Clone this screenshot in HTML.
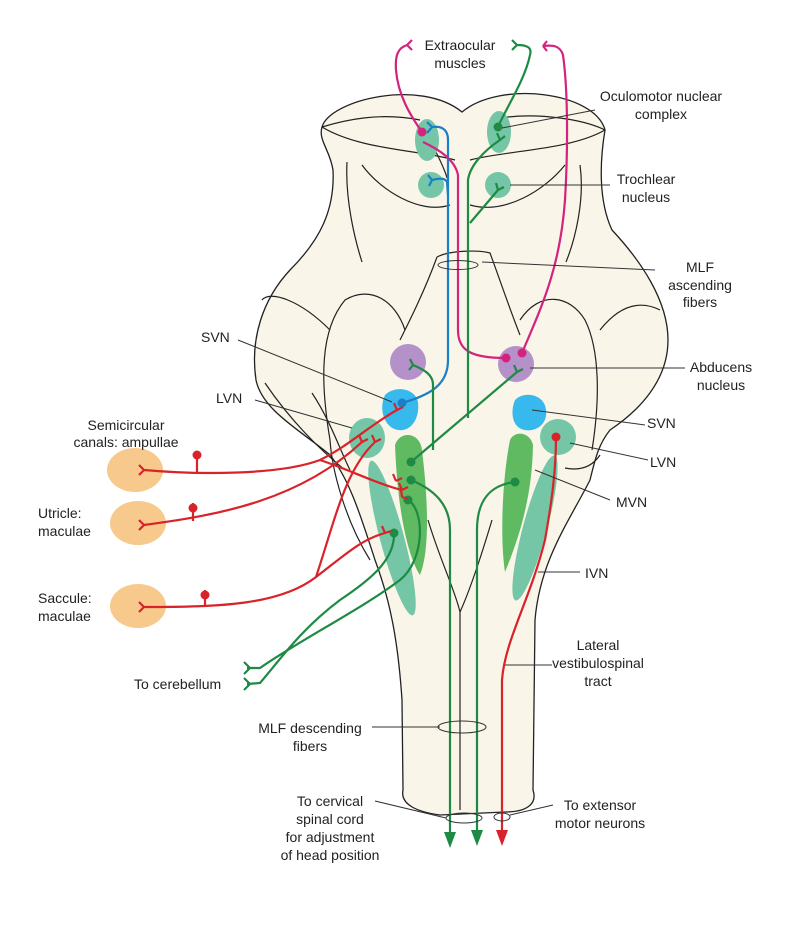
<!DOCTYPE html>
<html><head><meta charset="utf-8"><style>
html,body{margin:0;padding:0;background:#fff;}
svg{display:block;}
text{font-family:"Liberation Sans",sans-serif;font-size:14px;fill:#222;}
</style></head><body>
<svg width="800" height="931" viewBox="0 0 800 931" xmlns="http://www.w3.org/2000/svg">
<path d="M322,127 C330,100 420,78 462,112 C500,80 595,92 605,130 C600,160 598,200 612,230 C640,260 668,300 668,340 C668,380 640,410 610,430 C598,445 595,460 590,480 C570,520 540,560 535,620 L533,790 C538,805 525,812 505,812 L440,815 C418,812 400,805 403,790 L402,700 C398,640 390,600 375,560 C362,520 350,480 330,455 C300,430 262,410 256,380 C250,340 262,300 290,270 C320,240 335,210 333,170 C330,150 318,140 322,127 Z" fill="#f9f5e8" stroke="#222" stroke-width="1.3"/>
<g fill="none" stroke="#222" stroke-width="1.2">
<path d="M322,127 C360,150 420,150 455,160 M605,130 C570,150 510,150 470,160"/>
<path d="M322,127 C345,120 380,112 420,120 M605,130 C585,120 540,112 500,118"/>
<path d="M347,162 C345,200 355,240 362,262"/>
<path d="M580,165 C585,200 575,240 566,262"/>
<path d="M362,165 C380,190 420,215 450,205 M565,165 C545,190 505,215 470,205"/>
<path d="M437,257 C450,250 480,250 490,253 C500,280 510,310 520,335 M437,257 C425,290 410,320 400,340"/>
<path d="M435,150 C440,160 445,170 447,178"/>
<path d="M405,330 C395,300 370,285 345,300 C320,330 320,380 330,440 C332,470 345,520 370,560"/>
<path d="M520,320 C540,290 570,295 585,320 C600,350 600,400 592,450"/>
<path d="M262,300 C270,290 300,300 330,330 M660,310 C640,300 620,305 600,330"/>
<path d="M265,383 C290,420 320,450 345,470 M600,455 C590,470 575,470 565,468"/>
<path d="M428,520 C440,560 455,590 460,612 C470,590 480,560 492,520 M460,612 L460,810"/>
<path d="M312,393 C330,420 340,450 350,470"/>
</g>
<g fill="#74c6a6">
<ellipse cx="427" cy="140" rx="12" ry="21"/><ellipse cx="499" cy="132" rx="12" ry="21"/>
<circle cx="431" cy="185" r="13"/><circle cx="498" cy="185" r="13"/>
<ellipse cx="367" cy="438" rx="18" ry="20"/><ellipse cx="558" cy="437" rx="18" ry="18"/>
<ellipse cx="392" cy="538" rx="12" ry="80" transform="rotate(-15 392 538)"/>
<ellipse cx="535" cy="528" rx="12" ry="75" transform="rotate(15 535 528)"/>
</g>
<g fill="#b491c8"><circle cx="408" cy="362" r="18"/><circle cx="516" cy="364" r="18"/></g>
<g fill="#38b9ee"><path d="M385,395 C395,385 415,388 418,402 C420,420 410,432 398,430 C385,428 378,410 385,395Z"/><path d="M515,400 C525,390 545,395 546,410 C548,425 535,432 525,430 C512,428 510,412 515,400Z"/></g>
<g fill="#5fba62"><path d="M395,445 C400,430 420,432 422,450 C428,500 430,550 420,575 C410,560 398,520 395,445Z"/><path d="M510,440 C515,430 530,432 533,445 C532,500 518,540 505,572 C500,540 502,480 510,440Z"/></g>
<g fill="#f8c98c"><ellipse cx="135" cy="470" rx="28" ry="22"/><ellipse cx="138" cy="523" rx="28" ry="22"/><ellipse cx="138" cy="606" rx="28" ry="22"/></g>
<g fill="none" stroke="#1a7fc4" stroke-width="2.2">
<path d="M402,403 C430,395 448,385 448,360 L448,140 C448,128 440,126 432,127 M432,127 l-5,-5 M432,127 l-5,6"/>
<path d="M448,195 L447,182 C445,178 440,178 432,180 M432,180 l-4,-5 M432,180 l-3,6"/>
</g>
<circle cx="402" cy="403" r="4.5" fill="#1a7fc4"/>
<g fill="none" stroke="#d4237f" stroke-width="2.2">
<path d="M422,132 C410,115 398,95 396,70 C395,55 398,48 407,45 M407,45 l5,-5 M407,45 l5,5"/>
<path d="M423,142 C440,150 455,160 458,175 L458,330 C458,350 470,358 506,358"/>
<path d="M522,353 C540,310 560,270 565,200 C568,150 568,90 563,55 C560,45 552,45 543,46 M543,46 l4,-5 M543,46 l4,5"/>
</g>
<g fill="#d4237f"><circle cx="422" cy="132" r="4.5"/><circle cx="506" cy="358" r="4.5"/><circle cx="522" cy="353" r="4.5"/></g>
<g fill="none" stroke="#1e8a44" stroke-width="2.2">
<path d="M498,127 C505,110 525,80 530,55 C532,48 528,45 517,45 M517,45 l-5,-5 M517,45 l-5,5"/>
<path d="M500,140 C485,150 470,165 468,180 L468,418 M500,140 l-3,-7 M500,140 l5,-4"/>
<path d="M498,190 L470,223 M498,190 l-2,-7 M498,190 l6,-3"/>
<path d="M517,372 L411,462 M517,372 l-3,-7 M517,372 l6,-3"/>
<path d="M413,365 C425,370 433,375 433,385 L433,450 M413,365 l-3,-6 M413,365 l-4,5"/>
<path d="M411,480 C435,490 450,505 450,530 L450,835"/>
<path d="M515,482 C490,485 477,500 477,530 L477,832"/>
<path d="M408,500 C425,510 425,560 400,580 C360,610 300,640 260,668 L247,668 M250,668 l-6,-6 M250,668 l-6,6"/>
<path d="M394,533 C395,560 370,580 340,600 C300,630 280,660 260,683 L247,684 M250,684 l-6,-6 M250,684 l-6,6"/>
</g>
<g fill="#1e8a44"><circle cx="498" cy="127" r="4.5"/><circle cx="411" cy="462" r="4.5"/><circle cx="411" cy="480" r="4.5"/><circle cx="408" cy="500" r="4.5"/><circle cx="394" cy="533" r="4.5"/><circle cx="515" cy="482" r="4.5"/></g>
<path d="M444,832 L450,848 L456,832 Z M471,830 L477,846 L483,830 Z" fill="#1e8a44"/>
<g fill="none" stroke="#d9232a" stroke-width="2.2">
<path d="M556,437 C556,470 552,500 545,540 C530,600 505,640 502,680 L502,832"/>
<path d="M144,470 C200,475 280,475 320,460 C350,445 370,425 397,410 M397,410 l-3,-7 M397,410 l6,-3 M144,470 l-5,-5 M144,470 l-5,5"/>
<path d="M320,460 C350,470 380,485 402,490 M402,490 l-3,-7 M402,490 l6,-3 M396,481 l-3,-7 M396,481 l6,-3 M402,497 l-1,-7 M402,497 l6,2"/>
<path d="M144,525 C220,515 300,500 362,442 M362,442 l-3,-7 M362,442 l6,-3 M144,525 l-5,-5 M144,525 l-5,5"/>
<path d="M144,607 C220,607 280,605 316,577 C345,555 360,540 385,533 M385,533 l-3,-7 M385,533 l6,-2 M144,607 l-5,-5 M144,607 l-5,5"/>
<path d="M316,577 C335,520 345,470 375,442 M375,442 l-3,-7 M375,442 l6,-3"/>
<path d="M197,474 L197,456 M193,521 L193,503 M205,607 L205,590"/>
</g>
<g fill="#d9232a"><circle cx="556" cy="437" r="4.5"/><circle cx="197" cy="455" r="4.5"/><circle cx="193" cy="508" r="4.5"/><circle cx="205" cy="595" r="4.5"/></g>
<path d="M496,830 L502,846 L508,830 Z" fill="#d9232a"/>
<g fill="none" stroke="#333" stroke-width="1">
<path d="M502,128 L595,110"/><path d="M510,185 L610,185"/>
<path d="M482,262 L655,270"/><ellipse cx="458" cy="265" rx="20" ry="4.5"/>
<path d="M530,368 L685,368"/><path d="M532,410 L645,425"/><path d="M570,443 L648,460"/>
<path d="M535,470 L610,500"/><path d="M538,572 L580,572"/><path d="M505,665 L552,665"/>
<path d="M238,340 L392,402"/><path d="M255,400 L352,428"/>
<ellipse cx="462" cy="727" rx="24" ry="6"/><path d="M372,727 L440,727"/>
<ellipse cx="464" cy="818" rx="18" ry="5"/><path d="M375,801 L446,818"/>
<ellipse cx="502" cy="817" rx="8" ry="4"/><path d="M510,815 L553,805"/>
</g>
<g text-anchor="middle">
<text x="460" y="50">Extraocular</text><text x="460" y="68">muscles</text>
<text x="661" y="101">Oculomotor nuclear</text><text x="661" y="119">complex</text>
<text x="646" y="184">Trochlear</text><text x="646" y="202">nucleus</text>
<text x="700" y="272">MLF</text><text x="700" y="290">ascending</text><text x="700" y="307">fibers</text>
<text x="721" y="372">Abducens</text><text x="721" y="390">nucleus</text>
<text x="126" y="430">Semicircular</text><text x="126" y="447">canals: ampullae</text>
<text x="598" y="650">Lateral</text><text x="598" y="668">vestibulospinal</text><text x="598" y="686">tract</text>
<text x="310" y="733">MLF descending</text><text x="310" y="751">fibers</text>
<text x="330" y="806">To cervical</text><text x="330" y="824">spinal cord</text><text x="330" y="842">for adjustment</text><text x="330" y="860">of head position</text>
<text x="600" y="810">To extensor</text><text x="600" y="828">motor neurons</text>
</g>
<text x="201" y="342">SVN</text><text x="216" y="403">LVN</text>
<text x="647" y="428">SVN</text><text x="650" y="467">LVN</text><text x="616" y="507">MVN</text><text x="585" y="578">IVN</text>
<text x="38" y="518">Utricle:</text><text x="38" y="536">maculae</text>
<text x="38" y="603">Saccule:</text><text x="38" y="621">maculae</text>
<text x="134" y="689">To cerebellum</text>
</svg>
</body></html>
